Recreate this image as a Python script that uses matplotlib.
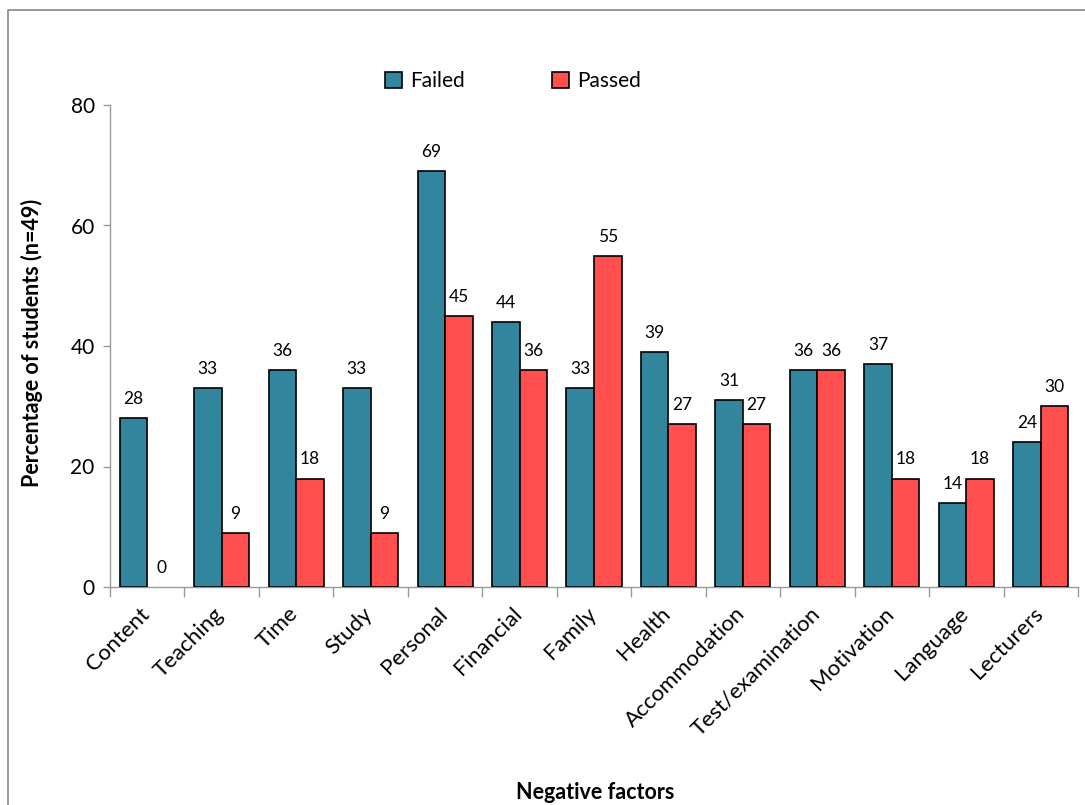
import matplotlib
matplotlib.use("Agg")
import matplotlib.pyplot as plt
from matplotlib.lines import Line2D
from matplotlib.patches import Patch
from matplotlib.transforms import ScaledTranslation
import numpy as np

plt.rcParams['font.family'] = ['Lato', 'DejaVu Sans']

categories = ["Content", "Teaching", "Time", "Study", "Personal", "Financial", "Family",
              "Health", "Accommodation", "Test/examination", "Motivation", "Language", "Lecturers"]
failed = [28, 33, 36, 33, 69, 44, 33, 39, 31, 36, 37, 14, 24]
passed = [0, 9, 18, 9, 45, 36, 55, 27, 27, 36, 18, 18, 30]
series_names = ["Failed", "Passed"]
colors = ["#31859C", "#FF4F4F"]

W, H = 1085, 805
fig = plt.figure(figsize=(W / 100, H / 100), dpi=100)
ax = fig.add_axes([110 / W, 1 - 587 / H, (1078 - 110) / W, (587 - 105) / H])

x = np.arange(len(categories))
bw = 0.37
for i, (vals, col) in enumerate(zip([failed, passed], colors)):
    off = (-0.5 + i) * bw
    bars = ax.bar(x + off, vals, width=bw, color=col, edgecolor="black", linewidth=1.2,
                  label=series_names[i], zorder=3)
    for b, v in zip(bars, vals):
        if v == 0:
            b.set_linewidth(0)
    for xi, v in zip(x, vals):
        ax.annotate(f"{v}", (xi + off, v), xytext=(0, 8), textcoords="offset points",
                    ha="center", va="bottom", fontsize=12.5)

ax.set_xlim(-0.5, len(categories) - 0.5)
ax.set_ylim(0, 80)
ax.set_yticks([0, 20, 40, 60, 80])
ax.tick_params(axis="y", labelsize=15, length=5, color="#999999", width=1, pad=6)

ax.set_xticks(np.arange(len(categories) + 1) - 0.5)
ax.set_xticklabels([])
ax.tick_params(axis="x", length=7, color="#999999", width=1)
ax.set_xticks(x, minor=True)
ax.set_xticklabels(categories, minor=True, rotation=45, ha="right", rotation_mode="anchor",
                   fontsize=16)
ax.tick_params(axis="x", which="minor", length=0, pad=12)
shift = ScaledTranslation(-8 / 100, 0, fig.dpi_scale_trans)
for lbl in ax.get_xticklabels(minor=True):
    lbl.set_transform(lbl.get_transform() + shift)

for s in ["top", "right"]:
    ax.spines[s].set_visible(False)
for s in ["left", "bottom"]:
    ax.spines[s].set_color("#999999")
    ax.spines[s].set_linewidth(1)

fig.text(32 / W, 1 - 343 / H, "Percentage of students (n=49)", fontsize=15.5,
         fontweight="bold", rotation=90, ha="center", va="center")
fig.text(595 / W, 1 - 792 / H, "Negative factors", fontsize=15.5, fontweight="bold",
         ha="center", va="center")

handles = [Patch(facecolor=c, edgecolor="black", linewidth=1.2) for c in colors]
fig.legend(handles, series_names, loc="center", bbox_to_anchor=(513 / W, 1 - 81 / H),
           ncol=2, frameon=False, fontsize=15, handlelength=0.8, handleheight=0.8,
           handletextpad=0.4, columnspacing=4.2)

# outer border (left & top)
fig.add_artist(Line2D([8 / W, 8 / W, 1.0], [0.0, 1 - 10.5 / H, 1 - 10.5 / H],
                      transform=fig.transFigure, color="#888888", linewidth=1.2))

fig.savefig("out.png", dpi=100)
